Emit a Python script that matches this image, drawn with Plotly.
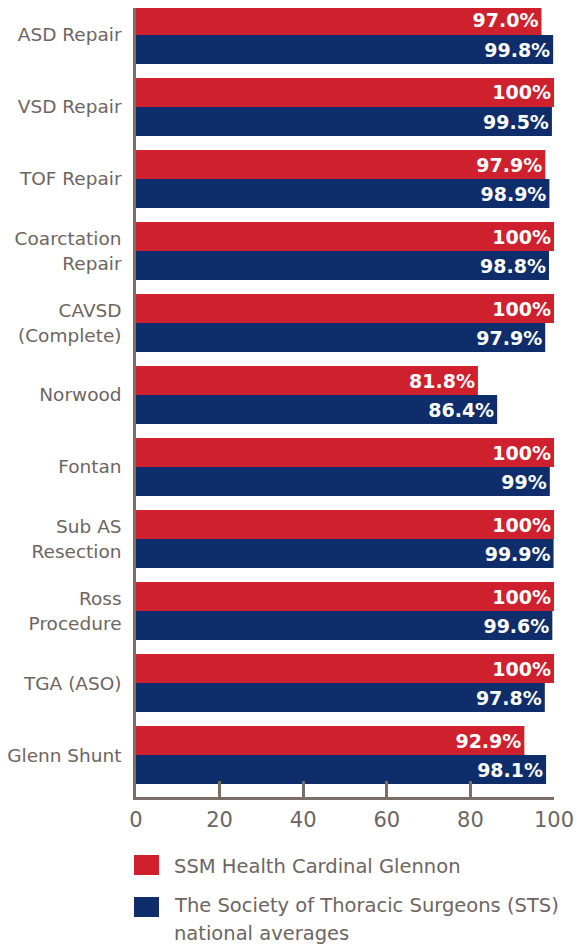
import plotly.graph_objects as go

categories = ["ASD Repair", "VSD Repair", "TOF Repair", "Coarctation<br>Repair",
              "CAVSD<br>(Complete)", "Norwood", "Fontan", "Sub AS<br>Resection",
              "Ross<br>Procedure", "TGA (ASO)", "Glenn Shunt"]
ssm_values = [97.0, 100, 97.9, 100, 100, 81.8, 100, 100, 100, 100, 92.9]
sts_values = [99.8, 99.5, 98.9, 98.8, 97.9, 86.4, 99, 99.9, 99.6, 97.8, 98.1]
ssm_labels = ["97.0%", "100%", "97.9%", "100%", "100%", "81.8%", "100%", "100%", "100%", "100%", "92.9%"]
sts_labels = ["99.8%", "99.5%", "98.9%", "98.8%", "97.9%", "86.4%", "99%", "99.9%", "99.6%", "97.8%", "98.1%"]
x_ticks = [0, 20, 40, 60, 80, 100]
series_names = ["SSM Health Cardinal Glennon",
                "The Society of Thoracic Surgeons (STS)<br>national averages"]

RED = "#CF202E"
BLUE = "#0F2D6B"
GRAY = "#6E655F"
AXIS = "#7A6E66"
FONT = "DejaVu Sans"

# page is rendered with an 8px body margin; work in page coordinates
OFF = 8
W, H = 582 - OFF, 946 - OFF
L, R, T, B = 136 - OFF, 28, 0, 946 - 797
PW, PH = W - L - R, H - T - B


def px(x):
    return (x - OFF - L) / PW


def py(y):
    return (H - B - (y - OFF)) / PH


fig = go.Figure()
for vals, labels, color, name in [(ssm_values, ssm_labels, RED, series_names[0]),
                                  (sts_values, sts_labels, BLUE, series_names[1])]:
    fig.add_trace(go.Bar(
        x=vals, y=categories, orientation="h", name=name,
        marker=dict(color=color, line=dict(width=0)),
        text=labels, textposition="inside", insidetextanchor="end",
        constraintext="none",
        textfont=dict(family=FONT, size=19, color="white", weight="bold"),
        showlegend=False, hoverinfo="skip",
    ))

fig.update_layout(
    width=W, height=H,
    margin=dict(l=L, r=R, t=T, b=B),
    paper_bgcolor="white", plot_bgcolor="white",
    barmode="group", bargap=0.194, bargroupgap=0,
    font=dict(family=FONT, color=GRAY),
    xaxis=dict(range=[0, 100], tickvals=x_ticks, showgrid=False, zeroline=False,
               showline=True, linecolor=AXIS, linewidth=2.5,
               ticks="inside", ticklen=16, tickwidth=2.5, tickcolor=AXIS,
               tickfont=dict(family=FONT, size=21, color=GRAY),
               ticklabelstandoff=2),
    yaxis=dict(categoryorder="array", categoryarray=categories,
               range=[10.583, -0.375], showgrid=False, zeroline=False,
               showline=True, linecolor=AXIS, linewidth=2.5, ticks="",
               tickfont=dict(family=FONT, size=18.5, color=GRAY),
               ticklabelstandoff=8),
)

# legend (swatches + text), page coordinates
legend_items = [
    (RED, 855, 875, ["SSM Health Cardinal Glennon"], [866]),
    (BLUE, 897, 917, ["The Society of Thoracic Surgeons (STS)", "national averages"], [906, 933]),
]
for color, y0, y1, lines, ys in legend_items:
    fig.add_shape(type="rect", xref="paper", yref="paper",
                  x0=px(134), x1=px(159), y0=py(y1), y1=py(y0),
                  fillcolor=color, line=dict(width=0))
    for line, yc in zip(lines, ys):
        fig.add_annotation(xref="paper", yref="paper", x=px(172), y=py(yc),
                           xanchor="left", yanchor="middle", showarrow=False,
                           text=line, font=dict(family=FONT, size=19.5, color=GRAY))

fig.write_html("out.html")
